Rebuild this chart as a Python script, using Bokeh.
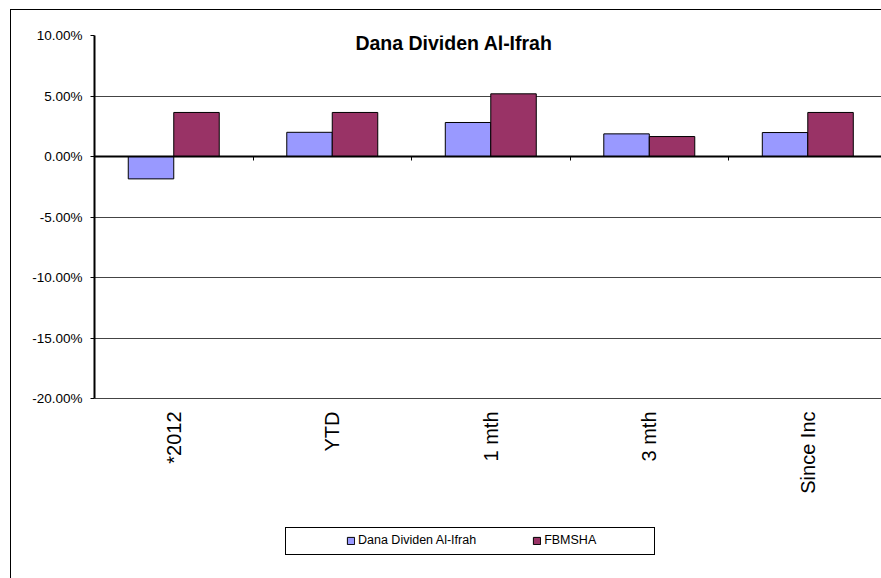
import numpy as np
from bokeh.plotting import figure
from bokeh.models import (Range1d, FixedTicker, LinearAxis, Legend, LegendItem,
                          Label, ColumnDataSource)
from bokeh.core.properties import value
from bokeh.embed import file_html
from bokeh.resources import INLINE

# ---- data ----
title_text = "Dana Dividen Al-Ifrah"
categories = ["*2012", "YTD", "1 mth", "3 mth", "Since Inc"]
series_names = ["Dana Dividen Al-Ifrah", "FBMSHA"]
dana = [-0.0185, 0.0200, 0.0281, 0.0187, 0.0198]
fbmsha = [0.0364, 0.0364, 0.0518, 0.0165, 0.0364]
y_ticks = [-0.20, -0.15, -0.10, -0.05, 0.0, 0.05, 0.10]
y_tick_labels = ["-20.00%", "-15.00%", "-10.00%", "-5.00%", "0.00%", "5.00%", "10.00%"]

FONT = "Liberation Sans"
C_DANA = "#9999FF"
C_FBM = "#993366"

n = len(categories)
centers = np.arange(n) + 0.5
bar_w = 0.287

# plot area: value axis spans y_ticks[0]..y_ticks[-1]; the frame continues below it
# to leave room for category labels and legend (363 px for the 30% span, 180 px more)
y_min, y_max = y_ticks[0], y_ticks[-1]
y_bottom = y_min - (y_max - y_min) * 180 / 363

src = ColumnDataSource(dict(
    x_dana=centers - bar_w / 2,
    x_fbm=centers + bar_w / 2,
    dana=dana,
    fbmsha=fbmsha,
))
cat_src = ColumnDataSource(dict(x=centers, y=[y_min] * n, text=categories))

css = """
:host::before {
  content: ""; position: absolute; left: 285px; top: 527px; width: 370px; height: 28px;
  box-sizing: border-box; border: 1px solid black; pointer-events: none; z-index: 100;
}
:host::after {
  content: ""; position: absolute; left: 10px; top: 9px; width: 871px; height: 569px;
  box-sizing: border-box; border-left: 1px solid black; border-top: 1px solid black;
  pointer-events: none; z-index: 100;
}
"""

p = figure(width=881, height=578, output_backend="svg", toolbar_location=None,
           x_range=Range1d(0, 4.965), y_range=Range1d(y_bottom, y_max),
           min_border_left=94, min_border_right=0, min_border_top=35,
           min_border_bottom=0, x_axis_location=None, y_axis_location=None,
           stylesheets=[css], styles={"overflow": "hidden"})
p.outline_line_color = None
p.background_fill_color = "white"
p.border_fill_color = "white"

r1 = p.vbar(x="x_dana", top="dana", bottom=0, width=bar_w, source=src,
            fill_color=C_DANA, line_color="black", line_width=1)
r2 = p.vbar(x="x_fbm", top="fbmsha", bottom=0, width=bar_w, source=src,
            fill_color=C_FBM, line_color="black", line_width=1)

# y axis
yax = LinearAxis(ticker=FixedTicker(ticks=y_ticks), bounds=(y_min, y_max),
                 major_label_overrides={t: l for t, l in zip(y_ticks, y_tick_labels)})
yax.axis_line_color = "black"
yax.axis_line_width = 2
yax.major_tick_line_color = "black"
yax.major_tick_out = 4
yax.major_tick_in = 0
yax.minor_tick_line_color = None
yax.major_label_standoff = 8
yax.major_label_text_font = FONT
yax.major_label_text_font_size = "13.5px"
yax.major_label_text_color = "black"
p.add_layout(yax, "left")

# zero line axis with category boundary ticks
zax = LinearAxis(ticker=FixedTicker(ticks=list(np.arange(1, n))), fixed_location=0)
zax.axis_line_color = "black"
zax.axis_line_width = 2
zax.major_tick_line_color = "black"
zax.major_tick_in = 4
zax.major_tick_out = 0
zax.minor_tick_line_color = None
zax.major_label_text_color = None
zax.major_label_text_font_size = "1px"
p.add_layout(zax, "above")

# category labels (below the -20% line)
p.text(x="x", y="y", text="text", source=cat_src, angle=np.pi / 2, y_offset=13,
       text_align="right", text_baseline="middle", text_font=value(FONT),
       text_font_size="20px", text_color="black")

# grid
p.ygrid.ticker = FixedTicker(ticks=y_ticks)
p.ygrid.grid_line_color = "#444444"
p.ygrid.grid_line_width = 1
p.xgrid.grid_line_color = None

# title inside plot area
p.add_layout(Label(x=359.5, y=536, x_units="screen", y_units="screen", text=title_text,
                   text_font=FONT, text_font_size="19.5px", text_font_style="bold",
                   text_align="center", text_baseline="middle", text_color="black"))

legend = Legend(items=[LegendItem(label=series_names[0], renderers=[r1]),
                       LegendItem(label=series_names[1], renderers=[r2])],
                location=(252, 28), orientation="horizontal",
                glyph_width=9, glyph_height=9, label_standoff=3, padding=0,
                spacing=56, label_width=118, label_height=20, margin=0,
                border_line_color=None, background_fill_alpha=0,
                label_text_font=FONT, label_text_font_size="12.5px",
                label_text_color="black")
p.add_layout(legend, "center")

open("out.html", "w").write(file_html(p, INLINE))
